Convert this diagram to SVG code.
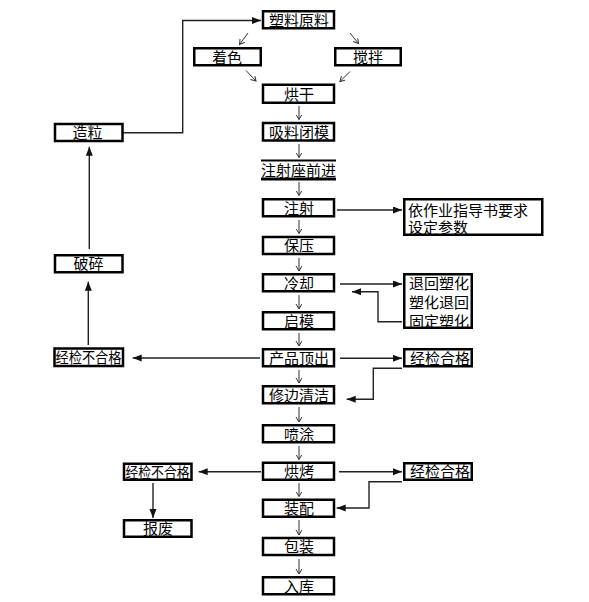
<svg xmlns="http://www.w3.org/2000/svg" width="589" height="602" viewBox="0 0 589 602">
<style>
.box{fill:#fff;stroke:#000;stroke-width:2.5}
text{font-family:"Noto Sans CJK SC","Noto Sans CJK JP",sans-serif;font-size:15px;fill:#000}
.c{text-anchor:middle}
.ln{fill:none;stroke:#222;stroke-width:1.4}
.sm{fill:none;stroke:#333;stroke-width:1}
</style>
<defs>
<marker id="tri" markerUnits="userSpaceOnUse" markerWidth="10" markerHeight="8" refX="9" refY="3.5" orient="auto"><path d="M0,0 L9,3.5 L0,7 z" fill="#111"/></marker>
<marker id="v" markerUnits="userSpaceOnUse" markerWidth="8" markerHeight="8" refX="5" refY="3" orient="auto"><path d="M0,0 L5,3 L0,6" fill="none" stroke="#333" stroke-width="1"/></marker>
</defs>
<rect width="589" height="602" fill="#fff"/>
<g id="connectors">
<path class="sm" marker-end="url(#v)" d="M248,33 L239.5,44.5"/>
<path class="sm" marker-end="url(#v)" d="M350,33 L358.5,43.5"/>
<path class="sm" marker-end="url(#v)" d="M246,70.5 L256,81"/>
<path class="sm" marker-end="url(#v)" d="M350,71.5 L340,81.5"/>
<path class="sm" marker-end="url(#v)" d="M299,106 V119.5"/>
<path class="sm" marker-end="url(#v)" d="M299,144 V157.5"/>
<path class="sm" marker-end="url(#v)" d="M299,182 V195.5"/>
<path class="sm" marker-end="url(#v)" d="M299,220 V233.5"/>
<path class="sm" marker-end="url(#v)" d="M299,258 V271"/>
<path class="sm" marker-end="url(#v)" d="M299,295 V309"/>
<path class="sm" marker-end="url(#v)" d="M299,333 V346"/>
<path class="sm" marker-end="url(#v)" d="M299,370 V383"/>
<path class="sm" marker-end="url(#v)" d="M299,407 V422"/>
<path class="sm" marker-end="url(#v)" d="M299,446 V459.5"/>
<path class="sm" marker-end="url(#v)" d="M299,483 V496.5"/>
<path class="sm" marker-end="url(#v)" d="M299,520 V535"/>
<path class="sm" marker-end="url(#v)" d="M299,559 V574"/>
<path class="ln" marker-end="url(#tri)" d="M337,210 H402"/>
<path class="ln" marker-end="url(#tri)" d="M340,284 H402"/>
<path class="ln" marker-end="url(#tri)" d="M402,321.7 H378 V291.7 H352"/>
<path class="ln" marker-end="url(#tri)" d="M340,358.3 H402"/>
<path class="ln" marker-end="url(#tri)" d="M402,368.3 H373.3 V399.3 H346.7"/>
<path class="ln" marker-end="url(#tri)" d="M260,358 H132.7"/>
<path class="ln" marker-end="url(#tri)" d="M88.3,345 V281.7"/>
<path class="ln" marker-end="url(#tri)" d="M89.3,249 V146.7"/>
<path class="ln" marker-end="url(#tri)" d="M111,132.7 H182.7 V20.5 H261"/>
<path class="ln" marker-end="url(#tri)" d="M261,471.7 H198.7"/>
<path class="ln" marker-end="url(#tri)" d="M339,471.7 H402"/>
<path class="ln" marker-end="url(#tri)" d="M402,481.7 H369 V508 H336.7"/>
<path class="ln" marker-end="url(#tri)" d="M153,483 V518"/>
</g>
<g id="n-suliao"><rect class="box" x="263" y="11.25" width="71" height="17"/><text class="c" x="299" y="25.5">塑料原料</text></g>
<g id="n-zhuose"><rect class="box" x="194.25" y="48.25" width="66.5" height="17"/><text class="c" x="227" y="62.5">着色</text></g>
<g id="n-jiaoban"><rect class="box" x="335.25" y="48.25" width="65.5" height="17"/><text class="c" x="368" y="62.5">搅拌</text></g>
<g id="n-honggan"><rect class="box" x="263" y="84.75" width="71" height="18"/><text class="c" x="299" y="99.5">烘干</text></g>
<g id="n-xiliao"><rect class="box" x="263" y="123" width="71" height="17.5"/><text class="c" x="299" y="137.5">吸料闭模</text></g>
<g id="n-zhusheqian"><line x1="261" y1="160.5" x2="336" y2="160.5" stroke="#000" stroke-width="2"/><line x1="261" y1="179" x2="336" y2="179" stroke="#000" stroke-width="3"/><text class="c" x="298.5" y="175.5">注射座前进</text></g>
<g id="n-zhushe"><rect class="box" x="263" y="199.25" width="71" height="17"/><text class="c" x="299" y="213.5">注射</text></g>
<g id="n-canshu"><rect class="box" x="404.25" y="199.25" width="138" height="35.5"/><text x="408" y="215.5">依作业指导书要求</text><text x="408" y="233">设定参数</text></g>
<g id="n-baoya"><rect class="box" x="263" y="237" width="71" height="17"/><text class="c" x="299" y="251">保压</text></g>
<g id="n-lengque"><rect class="box" x="263" y="274.25" width="71" height="17"/><text class="c" x="299" y="288.5">冷却</text></g>
<g id="n-suhua"><rect class="box" x="404.25" y="274.25" width="67.5" height="53.5"/><text x="409" y="289">退回塑化</text><text x="409" y="307.5">塑化退回</text><text x="409" y="327">固定塑化</text></g>
<g id="n-qimo"><rect class="box" x="263" y="312.25" width="71" height="17"/><text class="c" x="299" y="326.5">启模</text></g>
<g id="n-dingchu"><rect class="box" x="263" y="349.25" width="71" height="17"/><text class="c" x="299" y="363.5">产品顶出</text></g>
<g id="n-hege1"><rect class="box" x="404.25" y="349.25" width="67.5" height="17"/><text x="410" y="363.5">经检合格</text></g>
<g id="n-buhege1"><rect class="box" x="54.5" y="348.5" width="68.5" height="17.5"/><text x="55.5" y="363" textLength="66" lengthAdjust="spacingAndGlyphs">经检不合格</text></g>
<g id="n-posui"><rect class="box" x="55" y="255.25" width="67.5" height="17"/><text class="c" x="88.5" y="269">破碎</text></g>
<g id="n-zaoli"><rect class="box" x="55" y="124" width="67.5" height="17"/><text class="c" x="87.5" y="138">造粒</text></g>
<g id="n-xiubian"><rect class="box" x="263" y="386.25" width="71" height="17"/><text class="c" x="299" y="400.5">修边清洁</text></g>
<g id="n-pentu"><rect class="box" x="263" y="425.25" width="71" height="17"/><text class="c" x="299" y="439.5">喷涂</text></g>
<g id="n-hongkao"><rect class="box" x="263" y="462.75" width="71" height="17"/><text class="c" x="299" y="477">烘烤</text></g>
<g id="n-hege2"><rect class="box" x="404.25" y="463.25" width="67.5" height="16.5"/><text x="410" y="477">经检合格</text></g>
<g id="n-buhege2"><rect class="box" x="124" y="463.75" width="67.5" height="16"/><text x="125.5" y="477.5" textLength="64" lengthAdjust="spacingAndGlyphs">经检不合格</text></g>
<g id="n-baofei"><rect class="box" x="124" y="520.25" width="67.5" height="16.5"/><text class="c" x="158" y="534">报废</text></g>
<g id="n-zhuangpei"><rect class="box" x="263" y="499.75" width="71" height="17"/><text class="c" x="299" y="514">装配</text></g>
<g id="n-baozhuang"><rect class="box" x="263" y="538" width="71" height="17"/><text class="c" x="299" y="552">包装</text></g>
<g id="n-ruku"><rect class="box" x="263" y="577.25" width="71" height="17"/><text class="c" x="299" y="591.5">入库</text></g>
</svg>
